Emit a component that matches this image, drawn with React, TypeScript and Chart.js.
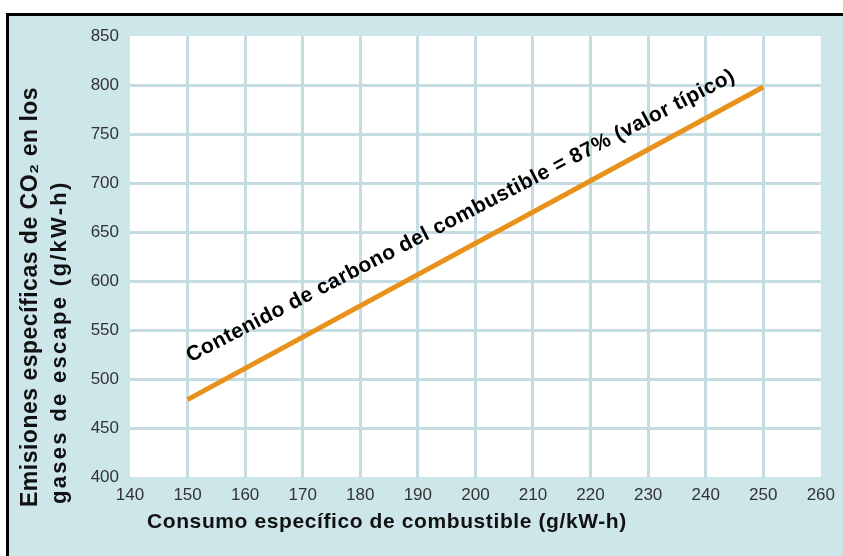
import React, { useEffect, useRef } from "react";
import { Chart, registerables } from "chart.js";

Chart.register(...registerables);

// ---- data ----
const fuelConsumption = [150, 250]; // g/kW-h
const co2Emissions = [479, 798]; // g/kW-h
const xTicksRange = [140, 260, 10];
const yTicksRange = [400, 850, 50];

const xTitle = "Consumo específico de combustible (g/kW-h)";
const yTitleLines = ["Emisiones específicas de CO₂ en los", "gases de escape (g/kW-h)"];
const annotationText = "Contenido de carbono del combustible = 87% (valor típico)";

const BG = "#cde6ea";
const GRID = "#c5dde2";
const LINE = "#e8921b";
const FONT = "'Liberation Sans', Arial, sans-serif";

const framePlugin = {
  id: "frame",
  beforeDraw(chart: any) {
    const { ctx, width, height, chartArea } = chart;
    ctx.save();
    ctx.fillStyle = "#ffffff";
    ctx.fillRect(0, 0, width, height);
    ctx.fillStyle = "#000000";
    ctx.fillRect(6, 13, width - 6, 3);
    ctx.fillRect(6, 13, 3, height - 13);
    ctx.fillStyle = BG;
    ctx.fillRect(9, 16, width - 9, height - 16);
    ctx.fillStyle = "#ffffff";
    ctx.fillRect(chartArea.left, chartArea.top, chartArea.right - chartArea.left, chartArea.bottom - chartArea.top);
    ctx.restore();
  },
  afterDraw(chart: any) {
    const { ctx, scales } = chart;
    const xs = scales.x;
    const ys = scales.y;
    ctx.save();
    ctx.fillStyle = "#111111";
    ctx.textAlign = "left";
    ctx.textBaseline = "alphabetic";
    // x title
    ctx.font = `bold 21px ${FONT}`;
    (ctx as any).letterSpacing = "0.6px";
    ctx.fillText(xTitle, 147, 528);
    // y title
    ctx.save();
    ctx.font = `bold 23px ${FONT}`;
    (ctx as any).letterSpacing = "0.5px";
    ctx.translate(37, 507);
    ctx.rotate(-Math.PI / 2);
    ctx.fillText(yTitleLines[0], 0, 0);
    ctx.restore();
    ctx.save();
    ctx.font = `bold 22px ${FONT}`;
    (ctx as any).letterSpacing = "2.3px";
    ctx.translate(66, 504);
    ctx.rotate(-Math.PI / 2);
    ctx.fillText(yTitleLines[1], 0, 0);
    ctx.restore();
    // annotation along the line
    const x0 = xs.getPixelForValue(fuelConsumption[0]);
    const y0 = ys.getPixelForValue(co2Emissions[0]);
    const x1 = xs.getPixelForValue(fuelConsumption[1]);
    const y1 = ys.getPixelForValue(co2Emissions[1]);
    const ang = Math.atan2(y1 - y0, x1 - x0);
    const mx = (x0 + x1) / 2;
    const my = (y0 + y1) / 2;
    const off = 25;
    const tx = mx + Math.sin(ang) * off;
    const ty = my - Math.cos(ang) * off;
    ctx.translate(tx, ty);
    ctx.rotate(ang + 0.02);
    ctx.font = `bold 21px ${FONT}`;
    (ctx as any).letterSpacing = "0.5px";
    ctx.textAlign = "center";
    ctx.fillStyle = "#000000";
    ctx.fillText(annotationText, 0, 0);
    ctx.restore();
  },
};

export default function App() {
  const ref = useRef<HTMLCanvasElement | null>(null);
  useEffect(() => {
    document.body.style.margin = "0";
    const canvas = ref.current;
    if (!canvas) return;
    const chart = new Chart(canvas, {
      type: "scatter",
      data: {
        datasets: [
          {
            data: fuelConsumption.map((x, i) => ({ x, y: co2Emissions[i] })),
            showLine: true,
            borderColor: LINE,
            borderWidth: 5,
            pointRadius: 0,
            borderCapStyle: "butt",
          },
        ],
      },
      options: {
        responsive: false,
        animation: false,
        layout: { padding: { left: 0, top: 36, right: 22, bottom: 0 } },
        plugins: { legend: { display: false }, tooltip: { enabled: false } },
        scales: {
          x: {
            type: "linear",
            min: xTicksRange[0],
            max: xTicksRange[1],
            afterFit: (s: any) => {
              s.height = 79;
            },
            ticks: {
              stepSize: xTicksRange[2],
              padding: 8,
              color: "#333333",
              font: { family: FONT, size: 17 },
            },
            grid: {
              drawTicks: false,
              lineWidth: 3,
              color: (c: any) =>
                c.tick && (c.tick.value === xTicksRange[0] || c.tick.value === xTicksRange[1]) ? "rgba(0,0,0,0)" : GRID,
            },
            border: { display: false },
          },
          y: {
            type: "linear",
            min: yTicksRange[0],
            max: yTicksRange[1],
            afterFit: (s: any) => {
              s.width = 130;
            },
            ticks: {
              stepSize: yTicksRange[2],
              padding: 11,
              color: "#333333",
              font: { family: FONT, size: 17 },
            },
            grid: {
              drawTicks: false,
              lineWidth: 3,
              color: (c: any) =>
                c.tick && (c.tick.value === yTicksRange[0] || c.tick.value === yTicksRange[1]) ? "rgba(0,0,0,0)" : GRID,
            },
            border: { display: false },
          },
        },
      },
      plugins: [framePlugin],
    } as any);
    return () => chart.destroy();
  }, []);
  return (
    <div style={{ width: 843, height: 556 }}>
      <canvas ref={ref} width={843} height={556} />
    </div>
  );
}
